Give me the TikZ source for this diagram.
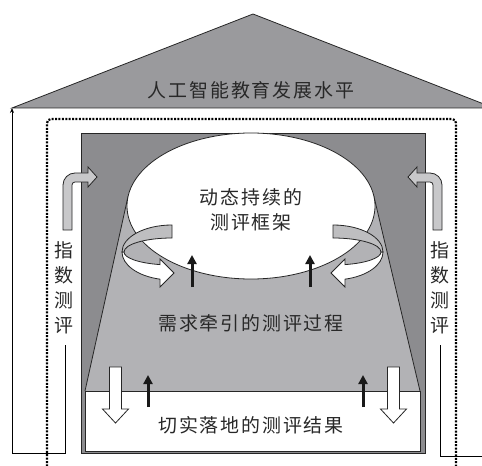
\documentclass[tikz,border=0pt]{standalone}
\usepackage{fontspec}
\newfontfamily\cjk[LetterSpace=10]{Noto Sans CJK SC}
\newfontfamily\cjkv{Noto Sans CJK SC}
\usetikzlibrary{arrows.meta}
\definecolor{roofgray}{RGB}{154,154,157}
\definecolor{wallgray}{RGB}{140,140,143}
\definecolor{trapgray}{RGB}{178,178,181}
\definecolor{hookgray}{RGB}{200,200,202}
\definecolor{ringgray}{RGB}{190,190,192}
\definecolor{txt}{RGB}{40,40,40}
\tikzset{
  outline/.style={draw=black!85, line width=0.8bp},
  dotline/.style={draw=black, line width=2.2bp, dash pattern=on 2bp off 1.4bp},
  thinline/.style={draw=black, line width=0.9bp},
  blackarrow/.style={draw=black!90, line width=3bp, -{Triangle[length=9bp,width=9bp]}},
  label/.style={font=\cjk\fontsize{19}{25}\selectfont, text=txt, inner sep=0pt, align=center},
  vlabel/.style={font=\cjkv\fontsize{19}{25}\selectfont, text=txt, inner sep=0pt, align=center}
}
\begin{document}
\begin{tikzpicture}[x=1bp,y=-1bp]
\useasboundingbox (0,0) rectangle (482,466);
\clip (0,0) rectangle (482,466);
% roof
\path[outline, fill=roofgray] (12,108) -- (253,14) -- (494,108) -- cycle;
\node[label] (roof) at (251,90) {人工智能教育发展水平};
% dotted frame
\draw[dotline, rounded corners=4bp] (47,480) -- (47,119) -- (456,119) -- (456,480);
% wall
\path[outline, fill=wallgray] (81,133) rectangle (425,453);
% trapezoid
\fill[trapgray] (85,391) -- (128,196.5) -- (373.8,195.9) -- (420,391) -- cycle;
\draw[outline] (85,391) -- (128,196.5);
\draw[outline] (420,391) -- (373.8,195.9);
% bottom white
\path[outline, fill=white] (85,391) rectangle (420,451);
% ellipse
\path[outline, fill=white] (251,206) ellipse [x radius=124, y radius=73];
\node[label] (frame) at (251,209.5) {动态持续的\\测评框架};
\node[label] (process) at (251,323) {需求牵引的测评过程};
\node[label] (result) at (251,425) {切实落地的测评结果};
% rings left
\path[outline, fill=white] (122,252) arc[start angle=180, end angle=104, x radius=50, y radius=28]
  -- (160,287) -- (174,273) -- (160,259) -- (160,264.6)
  arc[start angle=104.5, end angle=180, x radius=48, y radius=13] -- cycle;
\path[outline, fill=ringgray] (172,225) arc[start angle=-90, end angle=-180, x radius=50, y radius=27]
  -- (124,252) arc[start angle=180, end angle=270, x radius=48, y radius=14] -- cycle;
% rings right
\path[outline, fill=white] (383,252) arc[start angle=0, end angle=76, x radius=50, y radius=28]
  -- (345,287) -- (331,273) -- (345,259) -- (345,264.6)
  arc[start angle=75.5, end angle=0, x radius=48, y radius=13] -- cycle;
\path[outline, fill=ringgray] (333,225) arc[start angle=-90, end angle=0, x radius=50, y radius=27]
  -- (381,252) arc[start angle=0, end angle=-90, x radius=48, y radius=14] -- cycle;
% black arrows
\coordinate (a1s) at (192,287); \coordinate (a1e) at (192,255);
\coordinate (a2s) at (310,287); \coordinate (a2e) at (310,255);
\coordinate (a3s) at (148,407); \coordinate (a3e) at (148,375);
\coordinate (a4s) at (363,407); \coordinate (a4e) at (363,375);
\draw[blackarrow] (a1s) -- (a1e);
\draw[blackarrow] (a2s) -- (a2e);
\draw[blackarrow] (a3s) -- (a3e);
\draw[blackarrow] (a4s) -- (a4e);
% white down arrows
\path[outline, fill=white] (109.5,367) -- (121.5,367) -- (121.5,409) -- (128.5,409) -- (115.5,423) -- (102.5,409) -- (109.5,409) -- cycle;
\path[outline, fill=white] (387.5,367) -- (399.5,367) -- (399.5,409) -- (406.5,409) -- (393.5,423) -- (380.5,409) -- (387.5,409) -- cycle;
% hook arrows
\path[outline, fill=hookgray] (63,230) -- (63,185) arc[start angle=180, end angle=270, radius=12]
  -- (88,173) -- (88,167) -- (97,177) -- (88,187) -- (88,182) -- (75,182)
  arc[start angle=270, end angle=180, radius=3] -- (72,230) -- cycle;
\path[outline, fill=hookgray] (442,230) -- (442,185) arc[start angle=0, end angle=-90, radius=12]
  -- (417,173) -- (417,167) -- (408,177) -- (417,187) -- (417,182) -- (430,182)
  arc[start angle=-90, end angle=0, radius=3] -- (433,230) -- cycle;
% side labels
\node[vlabel] (idxL) at (63.5,287.5) {指\\数\\测\\评};
\node[vlabel] (idxR) at (439.5,287.5) {指\\数\\测\\评};
% brackets
\coordinate (bl1) at (65,345); \coordinate (bl2) at (65,453); \coordinate (bl3) at (12,453); \coordinate (bl4) at (12,108);
\draw[thinline, -{Stealth[length=5bp,width=4bp]}] (bl1) -- (bl2) -- (bl3) -- (bl4);
\coordinate (br1) at (440,345); \coordinate (br2) at (440,456); \coordinate (br3) at (490,456);
\draw[thinline] (br1) -- (br2) -- (br3);
\end{tikzpicture}
\end{document}
